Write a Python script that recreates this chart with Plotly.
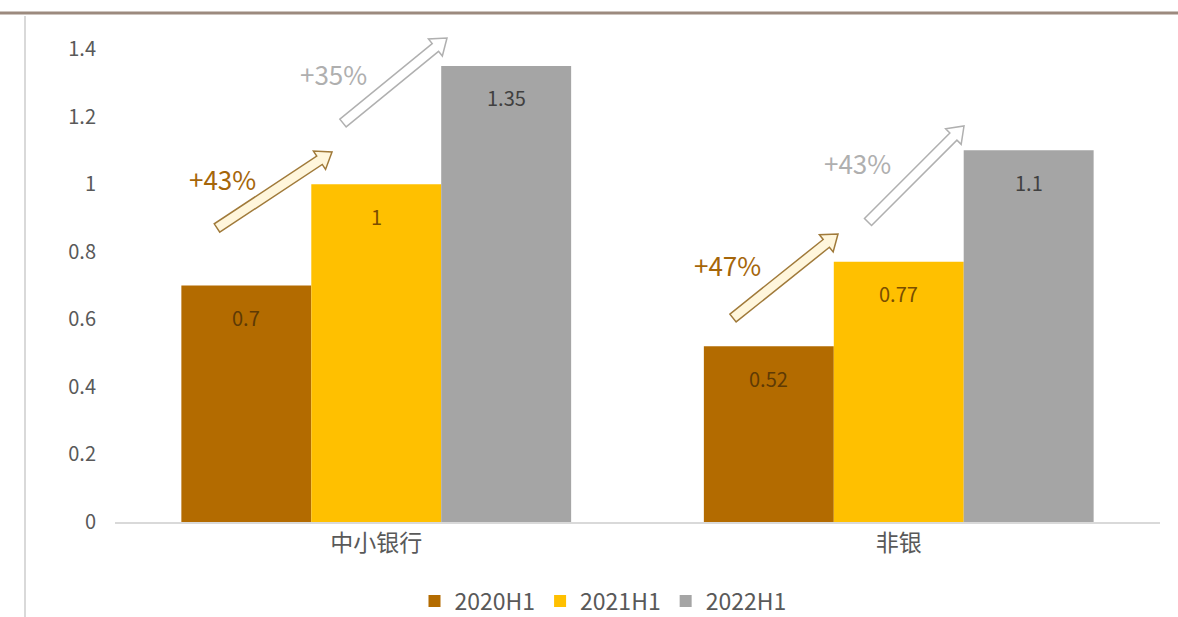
import math
import plotly.graph_objects as go

categories = ["中小银行", "非银"]
series_names = ["2020H1", "2021H1", "2022H1"]
v2020 = [0.7, 0.52]
v2021 = [1.0, 0.77]
v2022 = [1.35, 1.1]
growth_labels = ["+43%", "+35%", "+47%", "+43%"]
y_ticks = [0, 0.2, 0.4, 0.6, 0.8, 1.0, 1.2, 1.4]
y_tick_text = ["0", "0.2", "0.4", "0.6", "0.8", "1", "1.2", "1.4"]

W, H = 1178, 617
L, R, T, B = 115, 18, 49, 95
PW, PH = W - L - R, H - T - B
BARGAP = 0.254

colors = ["#B36B00", "#FFC000", "#A5A5A5"]
text_colors = ["#5E3A05", "#7A4E00", "#404040"]
values = [v2020, v2021, v2022]

fig = go.Figure()
nser = len(values)
bw = (1 - BARGAP) / nser
for k, (name, vals, c, tc) in enumerate(zip(series_names, values, colors, text_colors)):
    fig.add_trace(go.Bar(
        x=categories, y=vals, name=name, marker=dict(color=c, line=dict(width=0)),
    ))
    off = (k - (nser - 1) / 2) * bw
    for i, v in enumerate(vals):
        fig.add_annotation(x=i + off, y=v, xref="x", yref="y", text=f"{v:g}", showarrow=False,
                           yshift=-32, font=dict(size=20, color=tc))

def px2paper(x, y):
    return (x - L) / PW, (H - B - y) / PH

def arrow_path(tx, ty, hx, hy, w=5, hw=11, hl=15):
    dx, dy = hx - tx, hy - ty
    d = math.hypot(dx, dy)
    ux, uy = dx / d, dy / d
    nx, ny = -uy, ux
    bx, by = hx - ux * hl, hy - uy * hl
    pts = [(tx + nx * w, ty + ny * w), (bx + nx * w, by + ny * w), (bx + nx * hw, by + ny * hw),
           (hx, hy), (bx - nx * hw, by - ny * hw), (bx - nx * w, by - ny * w), (tx - nx * w, ty - ny * w)]
    pp = [px2paper(*p) for p in pts]
    return "M " + " L ".join(f"{a:.5f},{b:.5f}" for a, b in pp) + " Z"

# decorative arrows (pixel geometry): tail, head, outline, fill, label pos, label color
arrows = [
    ((217, 228), (332, 152), "#A07A3A", "#FFF6DC", (222, 178), "#A5660A"),
    ((343, 123), (447, 38), "#B0B0B0", "#FFFFFF", (333, 73), "#AFAFAF"),
    ((733, 318), (838, 234), "#A07A3A", "#FFF6DC", (727, 264), "#A5660A"),
    ((868, 222), (964, 126), "#B0B0B0", "#FFFFFF", (857, 163), "#AFAFAF"),
]
for (t, h, lc, fc, lp, txc), lab in zip(arrows, growth_labels):
    fig.add_shape(type="path", xref="paper", yref="paper", path=arrow_path(*t, *h),
                  line=dict(color=lc, width=1.5), fillcolor=fc, layer="above")
    ax, ay = px2paper(*lp)
    fig.add_annotation(x=ax, y=ay, xref="paper", yref="paper", text=lab, showarrow=False,
                       xanchor="center", yanchor="middle", font=dict(size=26, color=txc))

# frame lines
x0, _ = px2paper(0, 0)
x1, _ = px2paper(W, 0)
_, ytop = px2paper(0, 13)
_, ybot = px2paper(0, H)
fig.add_shape(type="line", xref="paper", yref="paper", x0=x0, x1=x1, y0=ytop, y1=ytop,
              line=dict(color="#9C8A7E", width=3))
xl, _ = px2paper(25, 0)
_, yl0 = px2paper(0, 16)
fig.add_shape(type="line", xref="paper", yref="paper", x0=xl, x1=xl, y0=yl0, y1=ybot,
              line=dict(color="#D9D9D9", width=2))

lx, _ = px2paper(603, 0)
fig.update_layout(
    width=W, height=H, margin=dict(l=L, r=R, t=T, b=B, autoexpand=False),
    paper_bgcolor="white", plot_bgcolor="white",
    barmode="group", bargap=BARGAP, bargroupgap=0,
    font=dict(family="Noto Sans CJK SC, Lato, sans-serif", color="#595959"),
    xaxis=dict(showgrid=False, showline=True, linecolor="#D9D9D9", linewidth=1.5,
               ticks="", tickfont=dict(size=23, color="#595959"), automargin=False),
    yaxis=dict(range=[0, 1.4], tickvals=y_ticks, ticktext=y_tick_text, showgrid=False,
               zeroline=False, showline=False, ticks="", ticklabelstandoff=18,
               tickfont=dict(size=20, color="#595959"), automargin=False),
    legend=dict(orientation="h", x=lx, xanchor="center", yref="container", y=(H - 601) / H,
                yanchor="middle", font=dict(size=23, color="#595959"), itemwidth=30,
                traceorder="normal"),
)
fig.write_html("out.html")
